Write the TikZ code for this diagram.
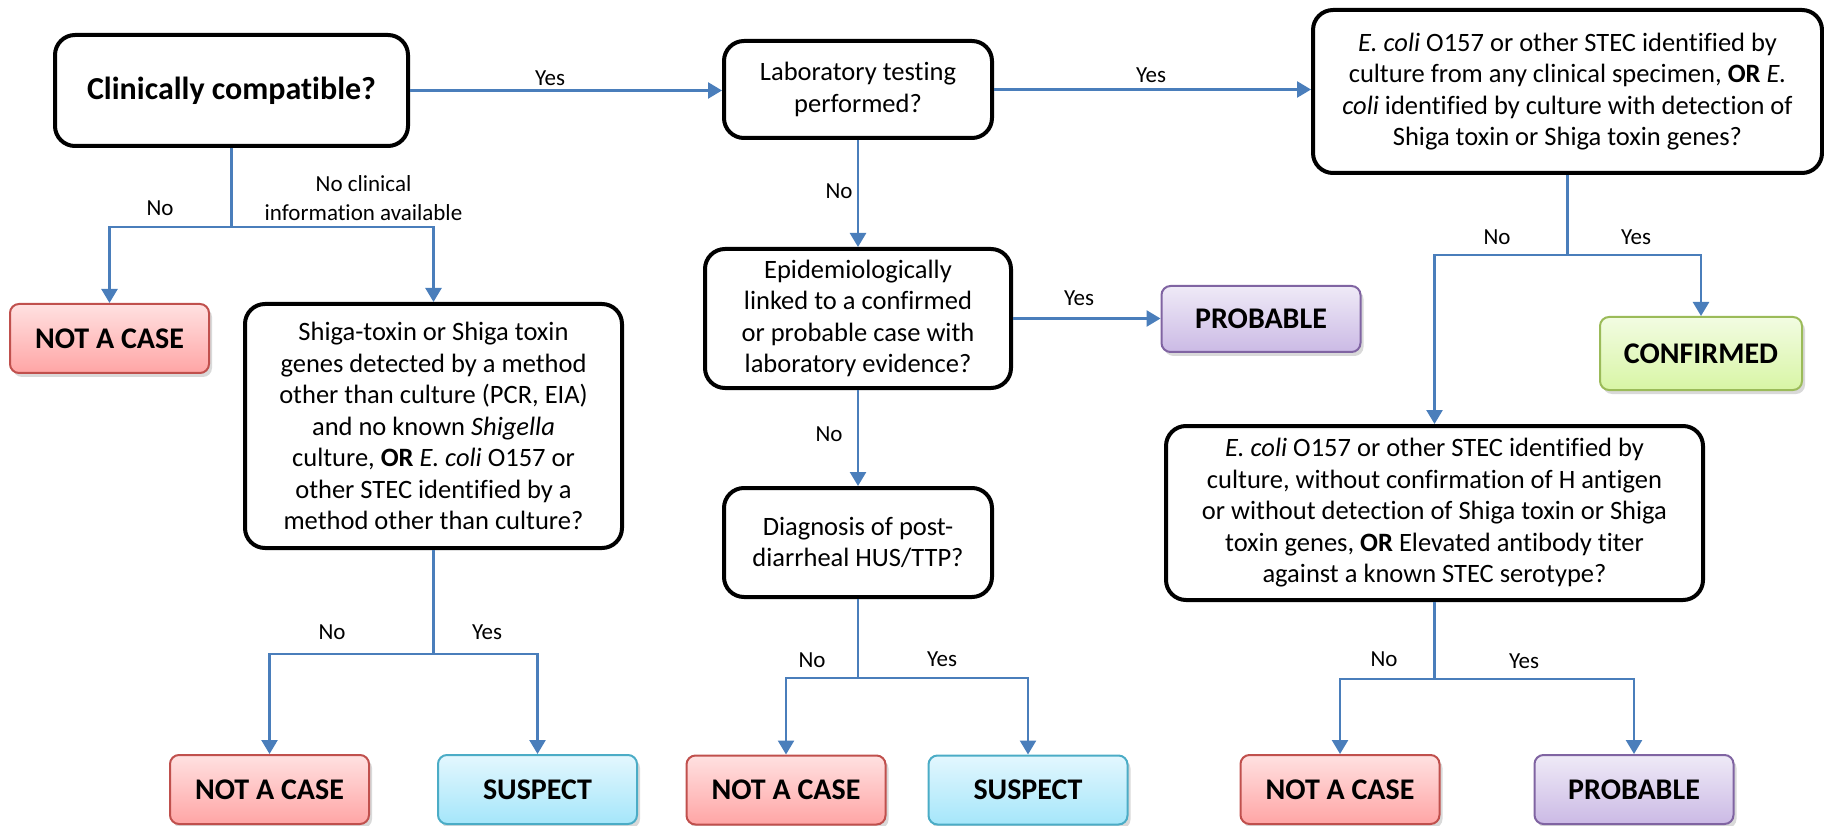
\documentclass[tikz,border=0pt]{standalone}
\usepackage{fontspec}
\setmainfont{Carlito}[Ligatures=NoCommon]
\usetikzlibrary{arrows.meta,shadows}

\definecolor{flowblue}{HTML}{4A7EBB}
\definecolor{redline}{HTML}{C0504D}
\definecolor{redtop}{HTML}{FFE1E1}
\definecolor{redbot}{HTML}{FFA5A5}
\definecolor{cyanline}{HTML}{4BACC6}
\definecolor{cyantop}{HTML}{E3F7FE}
\definecolor{cyanbot}{HTML}{A5E6FA}
\definecolor{greenline}{HTML}{9BBB59}
\definecolor{greentop}{HTML}{F2FCE2}
\definecolor{greenbot}{HTML}{D8F5A5}
\definecolor{violetline}{HTML}{8064A2}
\definecolor{violettop}{HTML}{EFEAF7}
\definecolor{violetbot}{HTML}{CBBAE5}

\begin{document}
\begin{tikzpicture}[x=1pt,y=-1pt,
	question/.style={draw=black,line width=4pt,rounded corners=20pt,fill=white,
		align=center,inner sep=0pt,font=\fontsize{26.5}{31.5}\selectfont},
	result/.style={line width=2pt,rounded corners=9pt,minimum width=199pt,
		minimum height=69pt,inner sep=0pt,font=\fontsize{30}{36}\selectfont\bfseries,
		drop shadow={shadow xshift=3pt,shadow yshift=-4pt,opacity=0.25,fill=black!60}},
	notcase/.style={result,draw=redline,top color=redtop,bottom color=redbot},
	suspect/.style={result,draw=cyanline,top color=cyantop,bottom color=cyanbot},
	confirmed/.style={result,draw=greenline,top color=greentop,bottom color=greenbot},
	probable/.style={result,draw=violetline,top color=violettop,bottom color=violetbot},
	wire/.style={draw=flowblue,line width=2.5pt},
	link/.style={wire,-{Triangle[width=16pt,length=14pt]}},
	lbl/.style={inner sep=0pt,align=center,font=\fontsize{23}{29}\selectfont}]
	\useasboundingbox (0,0) rectangle (1824,826);

	% questions
	\node[question,minimum width=353pt,minimum height=111pt,font=\fontsize{32}{38}\selectfont\bfseries]
		(clin) at (231.5,90.5) {Clinically compatible?};
	\node[question,minimum width=268pt,minimum height=97pt] (lab) at (858,89.5)
		{Laboratory testing\\performed?};
	\node[question,minimum width=509pt,minimum height=163pt] (ecoli) at (1567.5,91.5)
		{\textit{E. coli} O157 or other STEC identified by\\
		 culture from any clinical specimen, \textbf{OR} \textit{E.}\\
		 \textit{coli} identified by culture with detection of\\
		 Shiga toxin or Shiga toxin genes?};
	\node[question,minimum width=377pt,minimum height=244pt] (shiga) at (433.5,426)
		{Shiga-toxin or Shiga toxin\\
		 genes detected by a method\\
		 other than culture (PCR, EIA)\\
		 and no known \textit{Shigella}\\
		 culture, \textbf{OR} \textit{E. coli} O157 or\\
		 other STEC identified by a\\
		 method other than culture?};
	\node[question,minimum width=306pt,minimum height=139pt] (epi) at (858,318.5)
		{Epidemiologically\\linked to a confirmed\\or probable case with\\laboratory evidence?};
	\node[question,minimum width=268pt,minimum height=109pt] (diag) at (858,542.5)
		{Diagnosis of post-\\diarrheal HUS/TTP?};
	\node[question,minimum width=537pt,minimum height=174pt] (ecolib) at (1434.5,513)
		{\textit{E. coli} O157 or other STEC identified by\\
		 culture, without confirmation of H antigen\\
		 or without detection of Shiga toxin or Shiga\\
		 toxin genes, \textbf{OR} Elevated antibody titer\\
		 against a known STEC serotype?};

	% results
	\node[notcase] (nca) at (109.5,338.5) {NOT A CASE};
	\node[notcase] (ncb) at (269.5,789.5) {NOT A CASE};
	\node[suspect] (susa) at (537.5,789.5) {SUSPECT};
	\node[notcase] (ncc) at (786,790) {NOT A CASE};
	\node[suspect] (susb) at (1028,790) {SUSPECT};
	\node[probable,minimum height=66pt] (proba) at (1261,319) {PROBABLE};
	\node[confirmed,minimum width=202pt,minimum height=73pt] (conf) at (1701,353.5) {CONFIRMED};
	\node[notcase] (ncd) at (1340,789.5) {NOT A CASE};
	\node[probable] (probb) at (1634,789.5) {PROBABLE};

	% connectors
	\draw[link] (clin.east) -- (clin.east -| lab.west);
	\draw[link] (lab.east) -- (lab.east -| ecoli.west);
	\draw[wire] (clin.south) -- ++(0,79) coordinate (forka);
	\draw[link] (forka) -| (nca.north);
	\draw[link] (forka) -| (shiga.north);
	\draw[wire] (shiga.south) -- ++(0,104) coordinate (forkb);
	\draw[link] (forkb) -| (ncb.north);
	\draw[link] (forkb) -| (susa.north);
	\draw[link] (lab.south) -- (epi.north);
	\draw[link] (epi.east) -- (epi.east -| proba.west);
	\draw[link] (epi.south) -- (diag.north);
	\draw[wire] (diag.south) -- ++(0,79) coordinate (forkc);
	\draw[link] (forkc) -| (ncc.north);
	\draw[link] (forkc) -| (susb.north);
	\draw[wire] (ecoli.south) -- ++(0,80) coordinate (forkd);
	\draw[link] (forkd) -| (ecolib.north);
	\draw[link] (forkd) -| (conf.north);
	\draw[wire] (ecolib.south) -- ++(0,77) coordinate (forke);
	\draw[link] (forke) -| (ncd.north);
	\draw[link] (forke) -| (probb.north);

	% labels
	\node[lbl] (ya) at (550,78) {Yes};
	\node[lbl] (yb) at (1151,75) {Yes};
	\node[lbl] (na) at (160,208) {No};
	\node[lbl] (nclin) at (363.5,198) {No clinical\\information available};
	\node[lbl] (nb) at (839,191) {No};
	\node[lbl] (yc) at (1079,298) {Yes};
	\node[lbl] (nc) at (829,434) {No};
	\node[lbl] (nd) at (332,632) {No};
	\node[lbl] (yd) at (487,632) {Yes};
	\node[lbl] (ne) at (812,660) {No};
	\node[lbl] (ye) at (942,659) {Yes};
	\node[lbl] (nf) at (1497,237) {No};
	\node[lbl] (yf) at (1636,237) {Yes};
	\node[lbl] (ng) at (1384,659) {No};
	\node[lbl] (yg) at (1524,661) {Yes};
\end{tikzpicture}
\end{document}
